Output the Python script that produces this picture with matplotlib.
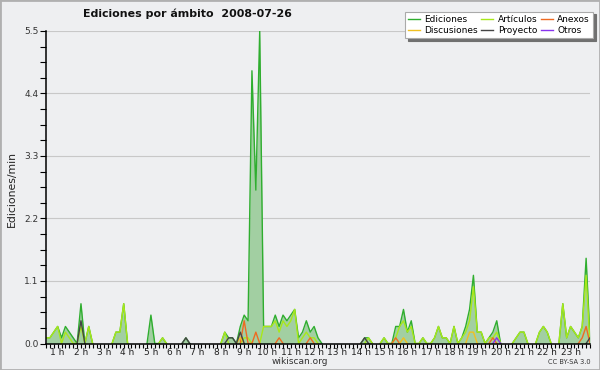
import numpy as np
import matplotlib
matplotlib.use('Agg')
import matplotlib.pyplot as plt
from matplotlib.ticker import MultipleLocator, FixedLocator, FuncFormatter

# edits per minute, one value every 10 minutes starting at 0:30
ediciones = [0.1, 0.1, 0.2, 0.3, 0.1, 0.3, 0.2, 0.1, 0.0, 0.7,
             0.0, 0.3, 0.0, 0.0, 0.0, 0.0, 0.0, 0.0, 0.2, 0.2,
             0.7, 0.0, 0.0, 0.0, 0.0, 0.0, 0.0, 0.5, 0.0, 0.0,
             0.1, 0.0, 0.0, 0.0, 0.0, 0.0, 0.1, 0.0, 0.0, 0.0,
             0.0, 0.0, 0.0, 0.0, 0.0, 0.0, 0.2, 0.1, 0.1, 0.0,
             0.3, 0.5, 0.4, 4.8, 2.7, 5.5, 0.3, 0.3, 0.3, 0.5,
             0.3, 0.5, 0.4, 0.5, 0.6, 0.1, 0.2, 0.4, 0.2, 0.3,
             0.1, 0.0, 0.0, 0.0, 0.0, 0.0, 0.0, 0.0, 0.0, 0.0,
             0.0, 0.0, 0.1, 0.1, 0.0, 0.0, 0.0, 0.1, 0.0, 0.0,
             0.3, 0.3, 0.6, 0.2, 0.4, 0.0, 0.0, 0.1, 0.0, 0.0,
             0.1, 0.3, 0.1, 0.1, 0.0, 0.3, 0.0, 0.1, 0.3, 0.6,
             1.2, 0.2, 0.2, 0.0, 0.1, 0.2, 0.4, 0.0, 0.0, 0.0,
             0.0, 0.1, 0.2, 0.2, 0.0, 0.0, 0.0, 0.2, 0.3, 0.2,
             0.0, 0.0, 0.0, 0.7, 0.1, 0.3, 0.2, 0.1, 0.3, 1.5, 0.1]

articulos = [0.1, 0.1, 0.2, 0.3, 0.0, 0.2, 0.1, 0.0, 0.0, 0.3,
             0.0, 0.3, 0.0, 0.0, 0.0, 0.0, 0.0, 0.0, 0.2, 0.2,
             0.7, 0.0, 0.0, 0.0, 0.0, 0.0, 0.0, 0.0, 0.0, 0.0,
             0.1, 0.0, 0.0, 0.0, 0.0, 0.0, 0.0, 0.0, 0.0, 0.0,
             0.0, 0.0, 0.0, 0.0, 0.0, 0.0, 0.2, 0.0, 0.0, 0.0,
             0.0, 0.1, 0.1, 0.0, 0.0, 0.0, 0.3, 0.3, 0.3, 0.4,
             0.2, 0.4, 0.3, 0.4, 0.6, 0.0, 0.1, 0.2, 0.1, 0.1,
             0.0, 0.0, 0.0, 0.0, 0.0, 0.0, 0.0, 0.0, 0.0, 0.0,
             0.0, 0.0, 0.0, 0.1, 0.0, 0.0, 0.0, 0.1, 0.0, 0.0,
             0.1, 0.3, 0.4, 0.2, 0.3, 0.0, 0.0, 0.1, 0.0, 0.0,
             0.1, 0.3, 0.1, 0.1, 0.0, 0.3, 0.0, 0.1, 0.2, 0.4,
             1.0, 0.2, 0.2, 0.0, 0.1, 0.1, 0.2, 0.0, 0.0, 0.0,
             0.0, 0.1, 0.2, 0.2, 0.0, 0.0, 0.0, 0.2, 0.3, 0.2,
             0.0, 0.0, 0.0, 0.7, 0.1, 0.3, 0.2, 0.1, 0.3, 1.2, 0.0]

# sparse series: {sample index: value}
anexos = {51: 0.4, 54: 0.2, 60: 0.1, 68: 0.1, 90: 0.1, 115: 0.1, 138: 0.1, 139: 0.3}
discusiones = {50: 0.1, 92: 0.1, 109: 0.2, 110: 0.2}
proyecto = {9: 0.4, 36: 0.1, 47: 0.1, 48: 0.1, 50: 0.2, 82: 0.1, 140: 0.1}
otros = {116: 0.1}

hours = list(range(1, 24))

n = len(ediciones)
t = 0.5 + np.arange(n) / 6.0

def dense(d):
    v = np.zeros(n)
    for k, val in d.items():
        v[k] = val
    return v

def hide_flat(v):
    # keep the baseline black: drop segments that lie on zero
    v = np.asarray(v, dtype=float).copy()
    z = v == 0
    left = np.r_[True, z[:-1]]
    right = np.r_[z[1:], True]
    v[z & left & right] = np.nan
    return v

bg = '#eeeff1'
fig = plt.figure(figsize=(6, 3.7), dpi=100, facecolor=bg)
ax = fig.add_axes([46/600, 1-343.5/370, 544/600, (343.5-31)/370])
ax.set_facecolor(bg)

ax.fill_between(t, ediciones, 0, color='#a2cfa2', lw=0, zorder=2)
l1, = ax.plot(t, hide_flat(ediciones), color='#2fae2f', lw=1.0, zorder=3, label='Ediciones')
l2, = ax.plot(t, hide_flat(articulos), color='#a8e81a', lw=1.0, zorder=4, label='Artículos')
l3, = ax.plot(t, hide_flat(dense(anexos)), color='#ee6a22', lw=1.0, zorder=5, label='Anexos')
l4, = ax.plot(t, hide_flat(dense(discusiones)), color='#f0c020', lw=1.0, zorder=5, label='Discusiones')
l5, = ax.plot(t, hide_flat(dense(proyecto)), color='#444444', lw=1.0, zorder=5, label='Proyecto')
l6, = ax.plot(t, hide_flat(dense(otros)), color='#8833ee', lw=1.0, zorder=5, label='Otros')

ax.set_xlim(t[0], t[-1])
ax.set_ylim(0, 5.5)

ax.yaxis.set_major_locator(MultipleLocator(1.1))
ax.yaxis.set_minor_locator(MultipleLocator(0.275))
ax.yaxis.set_major_formatter(FuncFormatter(lambda v, p: '%.1f' % v))
ax.xaxis.set_major_locator(FixedLocator(hours))
ax.xaxis.set_minor_locator(FixedLocator(t))
ax.xaxis.set_major_formatter(FuncFormatter(lambda v, p: '%d h' % v))

ax.tick_params(axis='y', which='both', length=4.5, width=0.8, pad=1,
               labelsize=6.5, labelcolor='#333333')
ax.tick_params(axis='x', which='both', length=3, width=0.8, pad=0.5,
               labelsize=6.5, labelcolor='#222222')

ax.grid(axis='y', which='major', color='#c8c8c8', lw=0.8)
ax.set_axisbelow(True)
for s in ['top', 'right']:
    ax.spines[s].set_visible(False)
for s in ['left', 'bottom']:
    ax.spines[s].set_linewidth(1.1)
    ax.spines[s].set_zorder(10)

fig.text(0.313, 1-14/370, 'Ediciones por ámbito  2008-07-26', ha='center',
         va='center', fontsize=7.9, fontweight='bold', color='#111111')
fig.text(12/600, 1-189/370, 'Ediciones/min', rotation=90, ha='center',
         va='center', fontsize=7.8, color='#222222')
fig.text(0.5, 1-361/370, 'wikiscan.org', ha='center', va='center',
         fontsize=6.5, color='#333333')
fig.text(569/600, 1-362/370, 'CC BY-SA 3.0', ha='center', va='center',
         fontsize=4.8, color='#333333')

leg = fig.legend([l1, l4, l2, l5, l3, l6],
                 ['Ediciones', 'Discusiones', 'Artículos', 'Proyecto', 'Anexos', 'Otros'],
                 ncol=3, loc='upper right', bbox_to_anchor=(593/600, 1-11.5/370),
                 fontsize=6.5, frameon=True, fancybox=False, framealpha=1,
                 edgecolor='#aaaaaa', facecolor='white', handlelength=1.3,
                 handletextpad=0.5, columnspacing=0.4, labelspacing=0.25,
                 borderpad=0.35, borderaxespad=0,
                 shadow={'facecolor': '#707070', 'edgecolor': '#707070', 'alpha': 1})
leg.get_frame().set_linewidth(0.8)

fig.patches.append(plt.Rectangle((0, 0), 1, 1, transform=fig.transFigure,
                                 fill=False, edgecolor='#b0b0b0', lw=2))

fig.savefig('out.png', dpi=100, facecolor=bg)
